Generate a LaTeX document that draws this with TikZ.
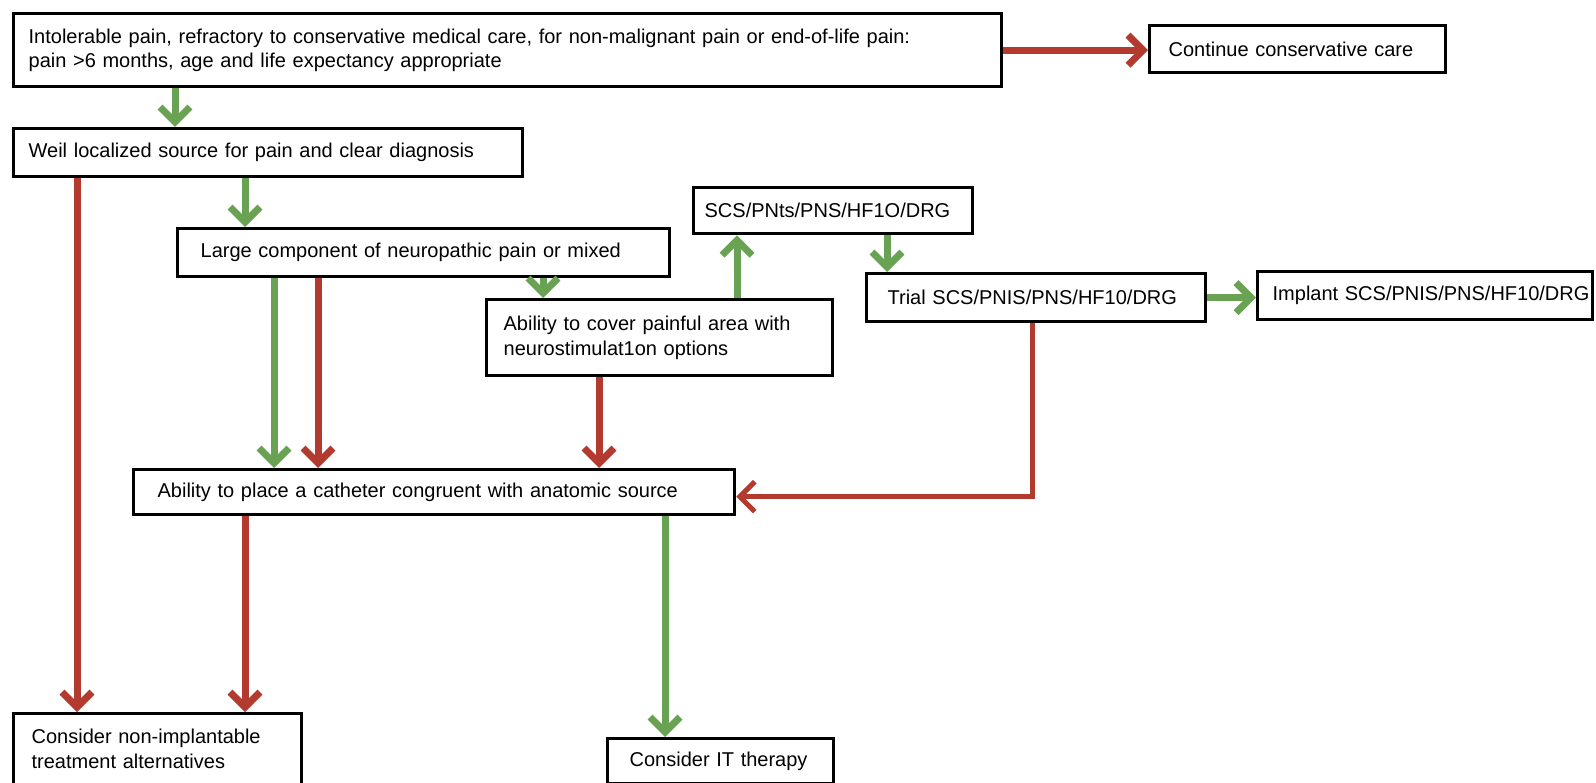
\documentclass[tikz,border=0pt]{standalone}
\usepackage{fontspec}
\setmainfont{Liberation Sans}
\usetikzlibrary{arrows.meta}
\definecolor{flowgreen}{RGB}{106,162,83}
\definecolor{flowred}{RGB}{178,58,46}
\begin{document}
\begin{tikzpicture}[x=1pt,y=-1pt,
  box/.style={draw, line width=3.3pt, anchor=north west, inner xsep=0pt,
    inner ysep=0pt, align=left, font=\fontsize{20}{24.5}\selectfont},
  lpad/.style={execute at begin node={\leftskip=#1pt\relax}},
  conn/.style={line width=7pt, -{Straight Barb[length=15pt,width=30pt]}},
  garrow/.style={conn, draw=flowgreen},
  rarrow/.style={conn, draw=flowred},
]
\useasboundingbox (0,0) rectangle (1596,783);

% boxes
\node[box, lpad=15, text width=988pt, minimum height=73pt] (b1) at (12,12)
  {Intolerable pain, refractory to conservative medical care, for non-malignant pain or end-of-life pain:\\pain >6 months, age and life expectancy appropriate};
\node[box, lpad=19, text width=296pt, minimum height=47pt] (cont) at (1148,24)
  {Continue conservative care};
\node[box, lpad=15, text width=509pt, minimum height=48pt] (b2) at (12,127)
  {Weil localized source for pain and clear diagnosis};
\node[box, lpad=23, text width=492pt, minimum height=48pt] (b3) at (176,227)
  {Large component of neuropathic pain or mixed};
\node[box, lpad=17, text width=346pt, minimum height=76pt] (b4) at (485,298)
  {Ability to cover painful area with\\neurostimulat1on options};
\node[box, lpad=11, text width=279pt, minimum height=46pt] (scs) at (692,186)
  {SCS/PNts/PNS/HF1O/DRG};
\node[box, lpad=21, text width=339pt, minimum height=48pt] (trial) at (865,272)
  {Trial SCS/PNIS/PNS/HF10/DRG};
\node[box, lpad=15, text width=335pt, minimum height=48pt] (impl) at (1256,270)
  {Implant SCS/PNIS/PNS/HF10/DRG};
\node[box, lpad=24, text width=601pt, minimum height=45pt] (b5) at (132,468)
  {Ability to place a catheter congruent with anatomic source};
\node[box, lpad=18, text width=288pt, text height=30pt, text depth=80pt] (b6) at (12,712)
  {Consider non-implantable\\treatment alternatives};
\node[box, lpad=22, text width=226pt, minimum height=45pt] (b7) at (606,737)
  {Consider IT therapy};

% connectors
\draw[garrow] ([xshift=163pt]b1.south west) -- ([xshift=163pt]b2.north west);
\draw[rarrow] (b1.east) -- (cont.west |- b1.east);
\draw[garrow] ([xshift=233pt]b2.south west) -- ([xshift=69pt]b3.north west);
\draw[rarrow] ([xshift=65pt]b2.south west) -- ([xshift=65pt]b6.north west);
\draw[garrow] ([xshift=98pt]b3.south west) -- ([xshift=142pt]b5.north west);
\draw[rarrow] ([xshift=142pt]b3.south west) -- ([xshift=186pt]b5.north west);
\draw[garrow] ([xshift=367pt]b3.south west) -- ([xshift=58pt]b4.north west);
\draw[rarrow] ([xshift=114pt]b4.south west) -- ([xshift=467pt]b5.north west);
\draw[garrow] ([xshift=252pt]b4.north west) -- ([xshift=45pt]scs.south west);
\draw[garrow] ([xshift=195pt]scs.south west) -- ([xshift=22pt]trial.north west);
\draw[garrow] (trial.east) -- (impl.west |- trial.east);
\draw[rarrow, line width=5pt] ([xshift=167pt]trial.south west) |- ([yshift=-4.5pt]b5.east);
\draw[rarrow] ([xshift=113pt]b5.south west) -- ([xshift=233pt]b6.north west);
\draw[garrow] ([xshift=533pt]b5.south west) -- ([xshift=59pt]b7.north west);
\end{tikzpicture}
\end{document}
